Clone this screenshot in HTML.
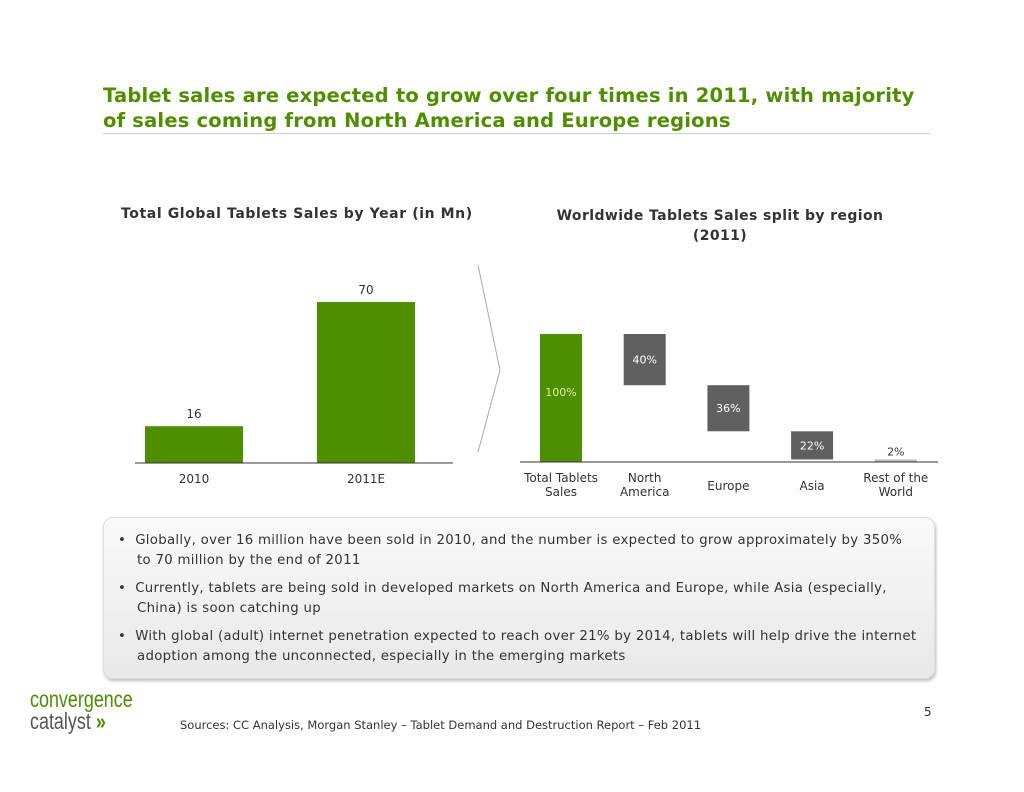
<!DOCTYPE html>
<html><head><meta charset="utf-8"><style>
body{margin:0;width:1024px;height:792px;background:#fff;font-family:"DejaVu Sans","Liberation Sans",sans-serif;position:relative;overflow:hidden}
.t{position:absolute;white-space:nowrap}
</style></head><body>
<div class="t" style="left:103px;top:83px;font-size:19.5px;font-weight:bold;color:#4e8f00;line-height:25px;letter-spacing:0.2px">Tablet sales are expected to grow over four times in 2011, with majority<br>of sales coming from North America and Europe regions</div>
<div style="position:absolute;left:103px;top:133px;width:827px;height:1px;background:#ccc"></div>
<div class="t" style="left:121px;top:206px;font-size:14px;font-weight:bold;color:#333;letter-spacing:0.6px">Total Global Tablets Sales by Year (in Mn)</div>
<div class="t" style="left:520px;top:206px;width:400px;text-align:center;font-size:14px;font-weight:bold;color:#333;line-height:20px;white-space:normal;letter-spacing:0.4px">Worldwide Tablets Sales split by region<br>(2011)</div>
<svg width="1024" height="792" style="position:absolute;left:0;top:0" font-family="DejaVu Sans, Liberation Sans, sans-serif">
<g id="left"></g>
<polyline points="478,265 500,370 478,452" fill="none" stroke="#aaa" stroke-width="1"/>
<g id="right"></g>
</svg>
<div style="position:absolute;left:103px;top:517px;width:830px;height:160px;border-radius:10px;background:linear-gradient(#fafafa,#e8e8e8);box-shadow:1px 2px 3px #bbb;border:1px solid #ddd"></div>
<div style="position:absolute;left:118px;top:531px;width:815px;font-size:13.3px;color:#333;line-height:19.5px;letter-spacing:0.3px;white-space:nowrap">
<div style="padding-left:19px;text-indent:-19px;margin-bottom:9px">•&nbsp; Globally, over 16 million have been sold in 2010, and the number is expected to grow approximately by 350%<br>to 70 million by the end of 2011</div>
<div style="padding-left:19px;text-indent:-19px;margin-bottom:9px">•&nbsp; Currently, tablets are being sold in developed markets on North America and Europe, while Asia (especially,<br>China) is soon catching up</div>
<div style="padding-left:19px;text-indent:-19px">•&nbsp; With global (adult) internet penetration expected to reach over 21% by 2014, tablets will help drive the internet<br>adoption among the unconnected, especially in the emerging markets</div>
</div>
<div class="t" style="left:30px;top:688px;font-size:23px;line-height:23px;color:#4e8f00;font-family:'Liberation Sans',sans-serif;transform:scaleX(0.78);transform-origin:left">convergence</div>
<div class="t" style="left:30px;top:710px;font-size:23px;line-height:23px;color:#555;font-family:'Liberation Sans',sans-serif;transform:scaleX(0.78);transform-origin:left">catalyst <b style="color:#4e8f00">»</b></div>
<div class="t" style="left:180px;top:718px;font-size:11.5px;color:#333">Sources: CC Analysis, Morgan Stanley – Tablet Demand and Destruction Report – Feb 2011</div>
<div class="t" style="left:924px;top:705px;font-size:12px;color:#333">5</div>
<script>
const years=['2010','2011E'];
const sales=[16,70];
const regions=['Total Tablets|Sales','North|America','Europe','Asia','Rest of the|World'];
const shares=[100,40,36,22,2];
const NS='http://www.w3.org/2000/svg';
function mk(p,t,a){const e=document.createElementNS(NS,t);for(const k in a)e.setAttribute(k,a[k]);p.appendChild(e);return e;}
const L=document.getElementById('left');
const base1=463,ys1=v=>base1-v*2.3,xs1=i=>145+i*172;
sales.forEach((v,i)=>{
 const r=mk(L,'rect',{x:xs1(i),y:ys1(v),width:98,height:base1-ys1(v),fill:'#4e8f00'});
 
 
 const t=mk(L,'text',{x:xs1(i)+49,y:ys1(v)-8,'text-anchor':'middle','font-size':12,fill:'#333'});t.textContent=v;
 const c=mk(L,'text',{x:xs1(i)+49,y:483,'text-anchor':'middle','font-size':12,fill:'#333'});c.textContent=years[i];
});
mk(L,'line',{x1:135,x2:453,y1:base1,y2:base1,stroke:'#333'});
const R=document.getElementById('right');
const base2=462,ys2=v=>v*1.28,xs2=i=>540+i*83.7;
let cum=base2-ys2(shares[0]);
shares.forEach((v,i)=>{
 let y0=cum,h=ys2(v);
 if(i>0){cum+=h;}
 const r=mk(R,'rect',{x:xs2(i),y:y0,width:42,height:Math.max(h,2),fill:i==0?'#4e8f00':(v<5?'#bbb':'#606060')});
 
 
 const ly=v<5?y0-4:(i==0?y0+h/2-2:y0+h/2+4);
 const t=mk(R,'text',{x:xs2(i)+21,y:ly,'text-anchor':'middle','font-size':11,fill:i==0?'#d6f5a0':(v<5?'#333':'#fff')});t.textContent=v+'%';
 const parts=regions[i].split('|');
 parts.forEach((p,j)=>{const c=mk(R,'text',{x:xs2(i)+21,y:(parts.length==1?490:482)+j*14,'text-anchor':'middle','font-size':12,fill:'#333'});c.textContent=p;});
});
mk(R,'line',{x1:520,x2:938,y1:base2,y2:base2,stroke:'#333'});
</script>
</body></html>
